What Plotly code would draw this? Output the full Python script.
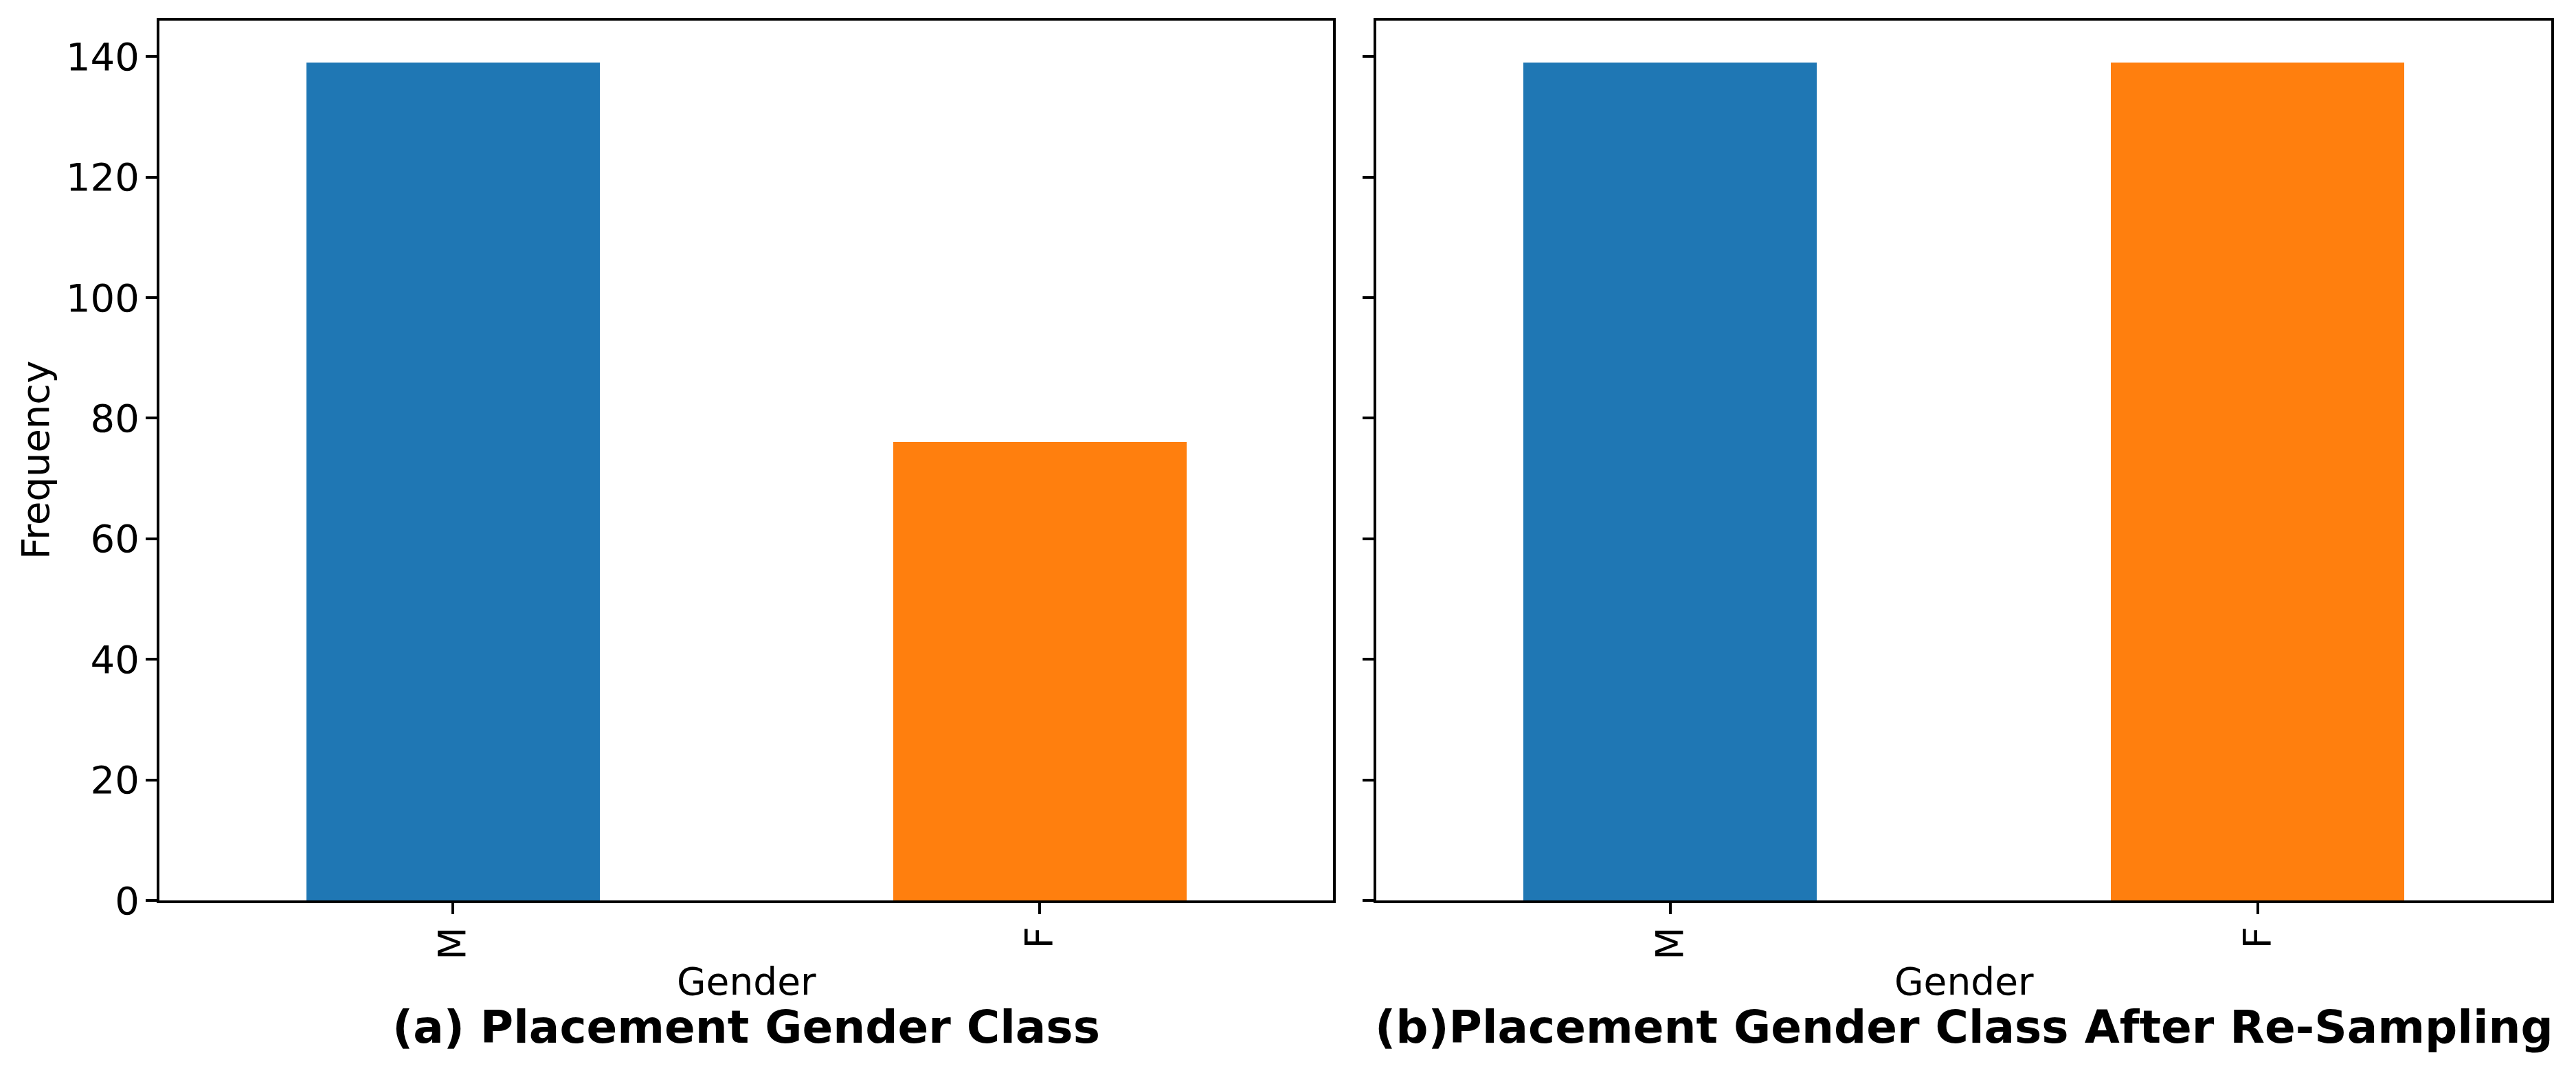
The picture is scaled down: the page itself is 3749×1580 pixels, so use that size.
import plotly.graph_objects as go
from plotly.subplots import make_subplots

categories = ["M", "F"]
before_counts = [139, 76]
after_counts = [139, 139]
bar_colors = ["#1f77b4", "#ff7f0e"]
y_ticks = [0, 20, 40, 60, 80, 100, 120, 140]

OFF = 8  # browser default body margin
W, H = 3749 - OFF, 1580 - OFF
# plot-area edges in reference page pixels
P_LEFT, P_RIGHT, P_TOP, P_BOTTOM = 232, 3713, 30, 1310
L = P_LEFT - OFF
T = P_TOP - OFF
R = (W + OFF) - P_RIGHT
B = (H + OFF) - P_BOTTOM
PW = P_RIGHT - P_LEFT
PH = P_BOTTOM - P_TOP

def px_x(px):
    return (px - P_LEFT) / PW

def px_y(py):
    return (P_BOTTOM - py) / PH

FONT = "DejaVu Sans"

fig = make_subplots(rows=1, cols=2, shared_yaxes=True, horizontal_spacing=0.0)

fig.add_trace(go.Bar(x=categories, y=before_counts, marker=dict(color=bar_colors, line=dict(width=0)),
                     width=0.5, showlegend=False), row=1, col=1)
fig.add_trace(go.Bar(x=categories, y=after_counts, marker=dict(color=bar_colors, line=dict(width=0)),
                     width=0.5, showlegend=False), row=1, col=2)

x1_end = px_x(1940)
x2_start = px_x(2003)

axis_common = dict(showline=True, linecolor="black", linewidth=4, mirror=True,
                   ticks="outside", ticklen=16, tickwidth=3.5, tickcolor="black",
                   showgrid=False, zeroline=False,
                   tickfont=dict(family=FONT, size=56, color="black"))

fig.update_xaxes(**axis_common, range=[-0.5, 1.5], tickangle=-90, ticklabelstandoff=-4)
fig.update_yaxes(**axis_common, range=[0, 145.95], tickvals=y_ticks, ticklabelstandoff=-2)
fig.update_layout(xaxis=dict(domain=[0, x1_end]), xaxis2=dict(domain=[x2_start, 1]))
fig.update_yaxes(showticklabels=False, row=1, col=2)

annotations = [
    dict(text="Frequency", x=px_x(51), y=px_y(670), textangle=-90, font=dict(size=56)),
    dict(text="Gender", x=px_x(1086), y=px_y(1428), font=dict(size=55)),
    dict(text="Gender", x=px_x(2858), y=px_y(1428), font=dict(size=55)),
    dict(text="<b>(a) Placement Gender Class</b>", x=px_x(1086), y=px_y(1494), font=dict(size=66)),
    dict(text="<b>(b)Placement Gender Class After Re-Sampling</b>", x=px_x(2858), y=px_y(1494), font=dict(size=66)),
]
for a in annotations:
    a.update(xref="paper", yref="paper", showarrow=False, xanchor="center", yanchor="middle")
    a["font"].update(family=FONT, color="black")
    fig.add_annotation(**a)

fig.update_layout(width=W, height=H, margin=dict(l=L, r=R, t=T, b=B, autoexpand=False),
                  paper_bgcolor="white", plot_bgcolor="white", bargap=0,
                  font=dict(family=FONT, color="black"))

fig.write_html("out.html")
